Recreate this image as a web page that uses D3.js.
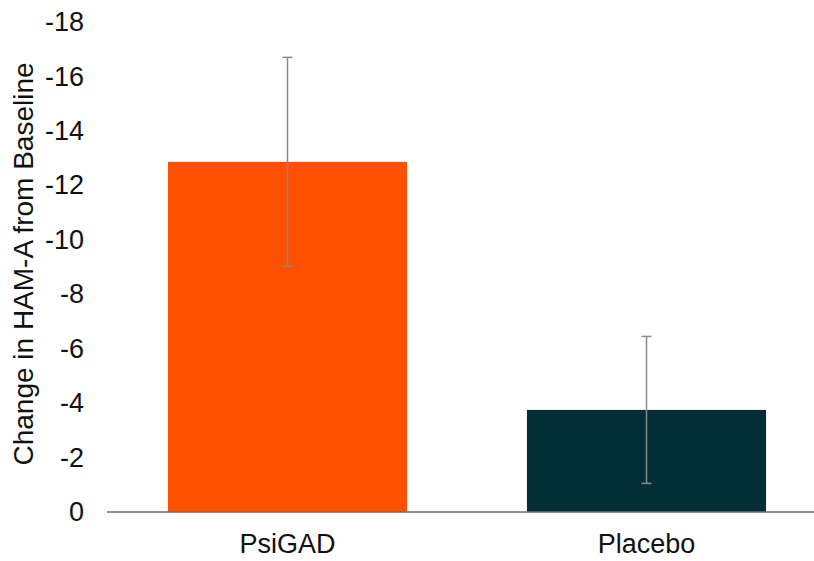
<!DOCTYPE html>
<html><head><meta charset="utf-8">
<script src="https://cdn.jsdelivr.net/npm/d3@7"></script>
<style>body{margin:0;background:#fff}svg{display:block}text{font-family:"Liberation Sans",Arial,Helvetica,sans-serif}</style>
</head><body><svg id="c" width="814" height="561"></svg>
<script>
const categories = ["PsiGAD", "Placebo"];
const values = [-12.86, -3.75];
const errors = [3.84, 2.7];
const colors = ["#FF5000", "#042E35"];
const yTicks = [0, -2, -4, -6, -8, -10, -12, -14, -16, -18];
const yTitle = "Change in HAM-A from Baseline";

const svg = d3.select("#c");
const y = d3.scaleLinear().domain([0, -18]).range([512, 22]);
const x = d3.scaleBand().domain(categories).range([108, 826]).paddingInner(0.334).paddingOuter(0.167);

const data = categories.map((c, i) => ({c, v: values[i], e: errors[i], col: colors[i]}));

svg.selectAll("rect.bar").data(data).join("rect")
  .attr("x", d => x(d.c)).attr("width", x.bandwidth())
  .attr("y", d => y(d.v)).attr("height", d => y(0) - y(d.v))
  .attr("fill", d => d.col);

// error bars
const eg = svg.selectAll("g.err").data(data).join("g").attr("stroke", "#8a8a8a").attr("stroke-width", 1.5);
eg.append("line").attr("x1", d => x(d.c) + x.bandwidth()/2).attr("x2", d => x(d.c) + x.bandwidth()/2)
  .attr("y1", d => y(d.v - d.e)).attr("y2", d => y(d.v + d.e));
eg.append("line").attr("x1", d => x(d.c) + x.bandwidth()/2 - 5).attr("x2", d => x(d.c) + x.bandwidth()/2 + 5)
  .attr("y1", d => y(d.v - d.e)).attr("y2", d => y(d.v - d.e));
eg.append("line").attr("x1", d => x(d.c) + x.bandwidth()/2 - 5).attr("x2", d => x(d.c) + x.bandwidth()/2 + 5)
  .attr("y1", d => y(d.v + d.e)).attr("y2", d => y(d.v + d.e));

// y axis labels
const ya = svg.append("g").attr("transform", "translate(84,0)")
  .call(d3.axisLeft(y).tickValues(yTicks).tickSize(0).tickPadding(0).tickFormat(d => d === 0 ? "0" : String(d)));
ya.select(".domain").remove();
ya.selectAll("text").attr("font-size", 27).attr("fill", "#111").style("font-family", '"Liberation Sans",Arial,sans-serif');

// x axis
const xa = svg.append("g").attr("transform", "translate(0,512)")
  .call(d3.axisBottom(x).tickSize(0));
xa.select(".domain").remove();
xa.selectAll("text").attr("font-size", 27).attr("fill", "#111").attr("y", 41).attr("dy", 0).style("font-family", '"Liberation Sans",Arial,sans-serif');
svg.append("line").attr("x1", 107).attr("x2", 814).attr("y1", y(0)).attr("y2", y(0))
  .attr("stroke", "#6e6e6e").attr("stroke-width", 1.5);

svg.append("text").attr("transform", "translate(33,264) rotate(-90)")
  .attr("text-anchor", "middle").attr("font-size", 28).attr("fill", "#111").text(yTitle);
</script></body></html>
